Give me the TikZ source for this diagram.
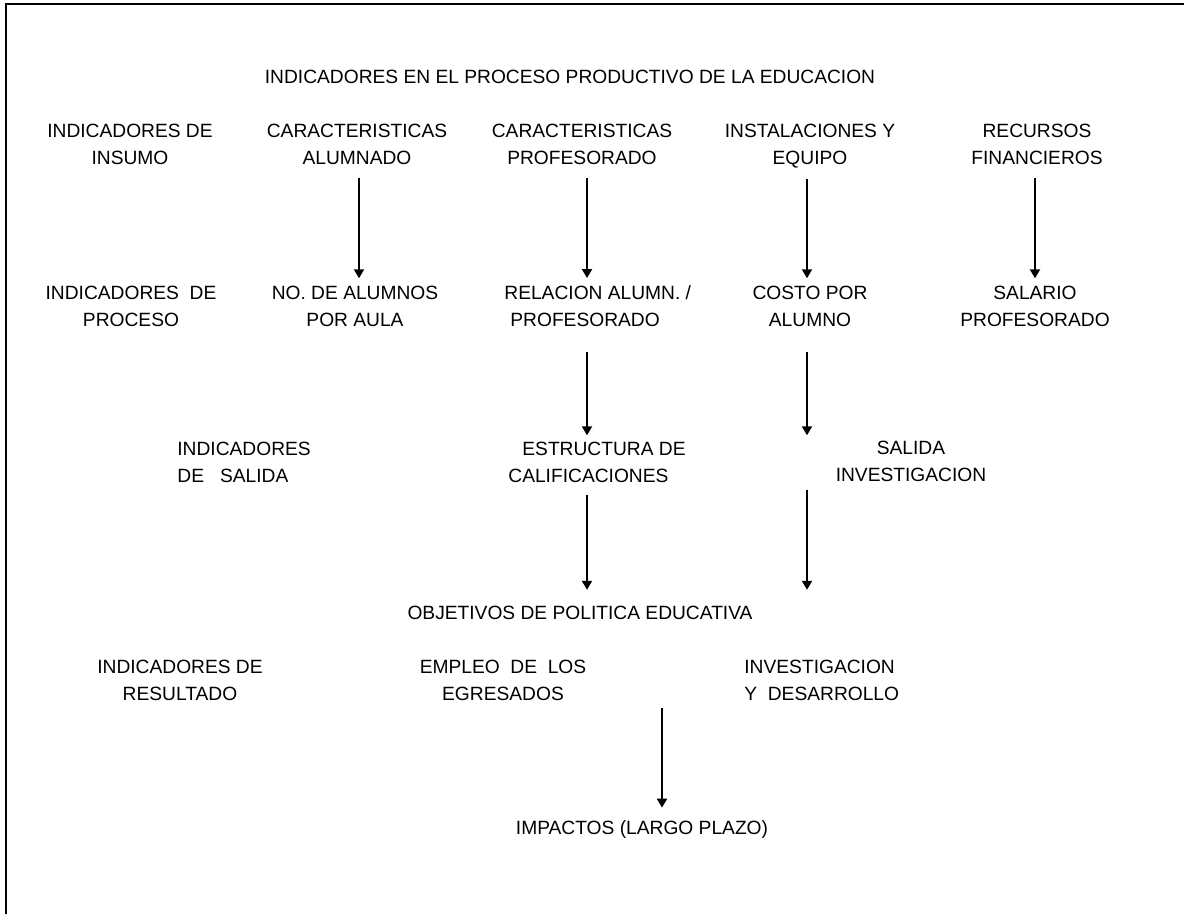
\documentclass[tikz,border=0pt]{standalone}
\usepackage{fontspec}
\setmainfont{Liberation Sans}
\usetikzlibrary{arrows.meta}

\begin{document}
\begin{tikzpicture}[x=0.5pt, y=-0.5pt,
  texto/.style={inner sep=0pt, align=center, font=\fontsize{9.6}{13.5}\selectfont}, % texto de las cajas
  flecha/.style={line width=1pt, -{Triangle[width=5pt,length=4.5pt]}, shorten <=6.5pt, shorten >=3.5pt}]
  \useasboundingbox (0,0) rectangle (1184,914);
  \draw[line width=1.3pt] (6,914) -- (6,4) -- (1184,4); % marco

  \node[texto] (titulo) at (570,77) {INDICADORES EN EL PROCESO PRODUCTIVO DE LA EDUCACION};

  % insumo
  \node[texto] (insumo) at (130,144) {INDICADORES DE\\INSUMO};
  \node[texto] (alum) at (357,144) {CARACTERISTICAS\\ALUMNADO};
  \node[texto] (prof) at (582,144) {CARACTERISTICAS\\PROFESORADO};
  \node[texto] (inst) at (810,146) {INSTALACIONES Y\\EQUIPO};
  \node[texto] (recur) at (1037,144) {RECURSOS\\FINANCIEROS};

  % proceso
  \node[texto] (proceso) at (131,306) {INDICADORES~ DE\\PROCESO};
  \node[texto] (nalum) at (355,306) {NO. DE ALUMNOS\\POR AULA};
  \node[texto, align=left, anchor=west] (relac) at (504,306) {RELACION ALUMN. /\\\hspace{3pt}PROFESORADO};
  \node[texto] (costo) at (810,306) {COSTO POR\\ALUMNO};
  \node[texto] (salario) at (1035,306) {SALARIO\\PROFESORADO};

  % salida
  \node[texto, align=left, anchor=west] (salida) at (177,462) {INDICADORES\\DE~~ SALIDA};
  \node[texto, align=left, anchor=west] (estruc) at (508,462) {\hspace{7pt}ESTRUCTURA DE\\CALIFICACIONES};
  \node[texto] (salinv) at (911,461) {SALIDA\\INVESTIGACION};

  \node[texto] (objetivos) at (580,613) {OBJETIVOS DE POLITICA EDUCATIVA};

  % resultado
  \node[texto] (resultado) at (180,680) {INDICADORES DE\\RESULTADO};
  \node[texto] (empleo) at (503,680) {EMPLEO~ DE~ LOS\\EGRESADOS};
  \node[texto, align=left, anchor=west] (invdes) at (744,680) {INVESTIGACION\\Y~ DESARROLLO};

  \node[texto] (impactos) at (642,830) {IMPACTOS (LARGO PLAZO)};

  % columnas de las flechas
  \coordinate (colA) at (359,0);
  \coordinate (colB) at (587,0);
  \coordinate (colC) at (807,0);
  \coordinate (colD) at (1035,0);
  \coordinate (resmid) at (662,708);

  \draw[flecha] (alum.south -| colA) -- (nalum.north -| colA);
  \draw[flecha] (prof.south -| colB) -- (relac.north -| colB);
  \draw[flecha, shorten <=5.5pt] (inst.south -| colC) -- (costo.north -| colC);
  \draw[flecha] (recur.south -| colD) -- (salario.north -| colD);
  \draw[flecha, shorten <=12.5pt, shorten >=3pt] (relac.south -| colB) -- (estruc.north -| colB);
  \draw[flecha, shorten <=12.5pt, shorten >=2.5pt] (costo.south -| colC) -- (salinv.north -| colC);
  \draw[flecha, shorten <=6pt, shorten >=8pt] (estruc.south -| colB) -- (objetivos.north -| colB);
  \draw[flecha, shorten <=4pt, shorten >=8pt] (salinv.south -| colC) -- (objetivos.north -| colC);
  \draw[flecha, shorten <=0pt, shorten >=6.5pt] (resmid) -- (resmid |- impactos.north);
\end{tikzpicture}
\end{document}
